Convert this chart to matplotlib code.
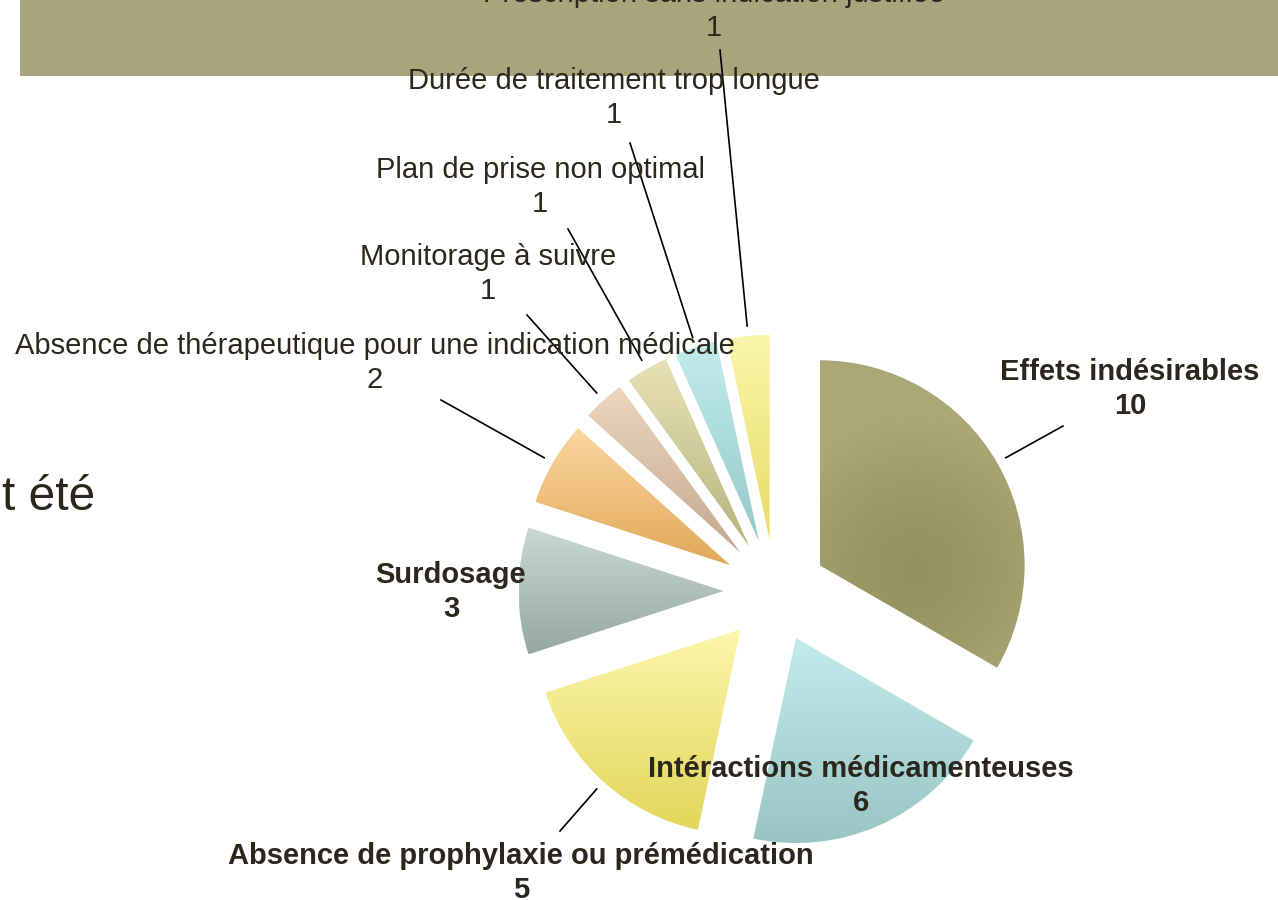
import matplotlib
matplotlib.use("Agg")
import matplotlib.pyplot as plt
import numpy as np
from matplotlib.patches import Rectangle

plt.rcParams['font.family'] = ['Liberation Sans', 'DejaVu Sans']

# data
categories = ["Effets indésirables", "Intéractions médicamenteuses",
              "Absence de prophylaxie ou prémédication", "Surdosage",
              "Absence de thérapeutique pour une indication médicale",
              "Monitorage à suivre", "Plan de prise non optimal",
              "Durée de traitement trop longue",
              "Prescription sans indication justifiée"]
values = [10, 6, 5, 3, 2, 1, 1, 1, 1]
bold = [True, True, True, True, False, False, False, False, False]

# gradient colours (top, bottom) for each slice, first one is radial (centre, edge)
grad_top = [(150, 146, 96), (193, 236, 235), (252, 246, 172), (201, 217, 209),
            (252, 214, 162), (237, 214, 190), (231, 225, 182), (193, 236, 236),
            (251, 246, 172)]
grad_bot = [(171, 167, 118), (152, 196, 196), (226, 214, 90), (148, 168, 160),
            (224, 168, 88), (196, 168, 144), (184, 180, 128), (152, 200, 200),
            (230, 220, 100)]

# label layout in image pixels (x centre, baseline of the value line), leader start or None
lab_pos = [(1130, 414), (861, 811), (521, 898), (451, 617), (375, 388),
           (488, 299), (540, 212), (614, 123), (714, 36)]
lead_start = [(1063, 426), None, (560, 831), None, (441, 400),
              (527, 315), (568, 229), (630, 143), (720, 50)]

W, H = 1278, 900
fig = plt.figure(figsize=(W / 100, H / 100), dpi=100)
ax = fig.add_axes([0, 0, 1, 1])

cx, cy = 775, H - 591
rad = 205
expl = 51.5

# banner at top
ax.add_patch(Rectangle((20, H - 76), W - 20, 76, color='#A8A57D', zorder=0, lw=0))

wedges, _ = ax.pie(values, startangle=90, counterclock=False, radius=rad,
                   center=(cx, cy), explode=[expl] * len(values),
                   wedgeprops=dict(linewidth=0), frame=True)

for i, w in enumerate(wedges):
    w.set_facecolor('none')
    bb = w.get_path().get_extents()
    top = np.array(grad_top[i]) / 255.
    bot = np.array(grad_bot[i]) / 255.
    if i == 0:
        # radial shading on the big slice
        n = 200
        xs = np.linspace(bb.x0, bb.x1, n)
        ys = np.linspace(bb.y0, bb.y1, n)
        X, Y = np.meshgrid(xs, ys)
        d = np.hypot(X - 915, Y - (H - 570)) / 150.
        t = np.clip(d, 0, 1)[..., None] ** 1.5
        img = top * (1 - t) + bot * t
    else:
        t = np.linspace(0, 1, 100)[:, None, None]
        img = bot * (1 - t) + top * t
        img = np.repeat(img, 2, axis=1)
    im = ax.imshow(img, extent=(bb.x0, bb.x1, bb.y0, bb.y1), origin='lower',
                   aspect='auto', interpolation='bilinear', zorder=1)
    im.set_clip_path(w)

# labels and leader lines
total = sum(values)
cum = 0
for i, (name, v) in enumerate(zip(categories, values)):
    ang = np.deg2rad(90 - 360 * (cum + v / 2) / total)
    cum += v
    x, y = lab_pos[i]
    ax.text(x, H - y, name + "\n" + str(v), ha='center', va='baseline',
            fontsize=21, fontweight='bold' if bold[i] else 'normal',
            color='#2B271E', linespacing=1.26, zorder=4)
    if lead_start[i] is not None:
        wx = cx + expl * np.cos(ang) + (rad + 10) * np.cos(ang)
        wy = cy + expl * np.sin(ang) + (rad + 10) * np.sin(ang)
        sx, sy = lead_start[i]
        ax.plot([sx, wx], [H - sy, wy], color='black', lw=1.2, zorder=3)

ax.text(2, H - 510, "t été", ha='left', va='baseline', fontsize=34.5,
        color='#2B271E', zorder=4)

ax.set_xlim(0, W)
ax.set_ylim(0, H)
ax.set_aspect('auto')
ax.axis('off')

plt.savefig('out.png', dpi=100)
plt.close()
